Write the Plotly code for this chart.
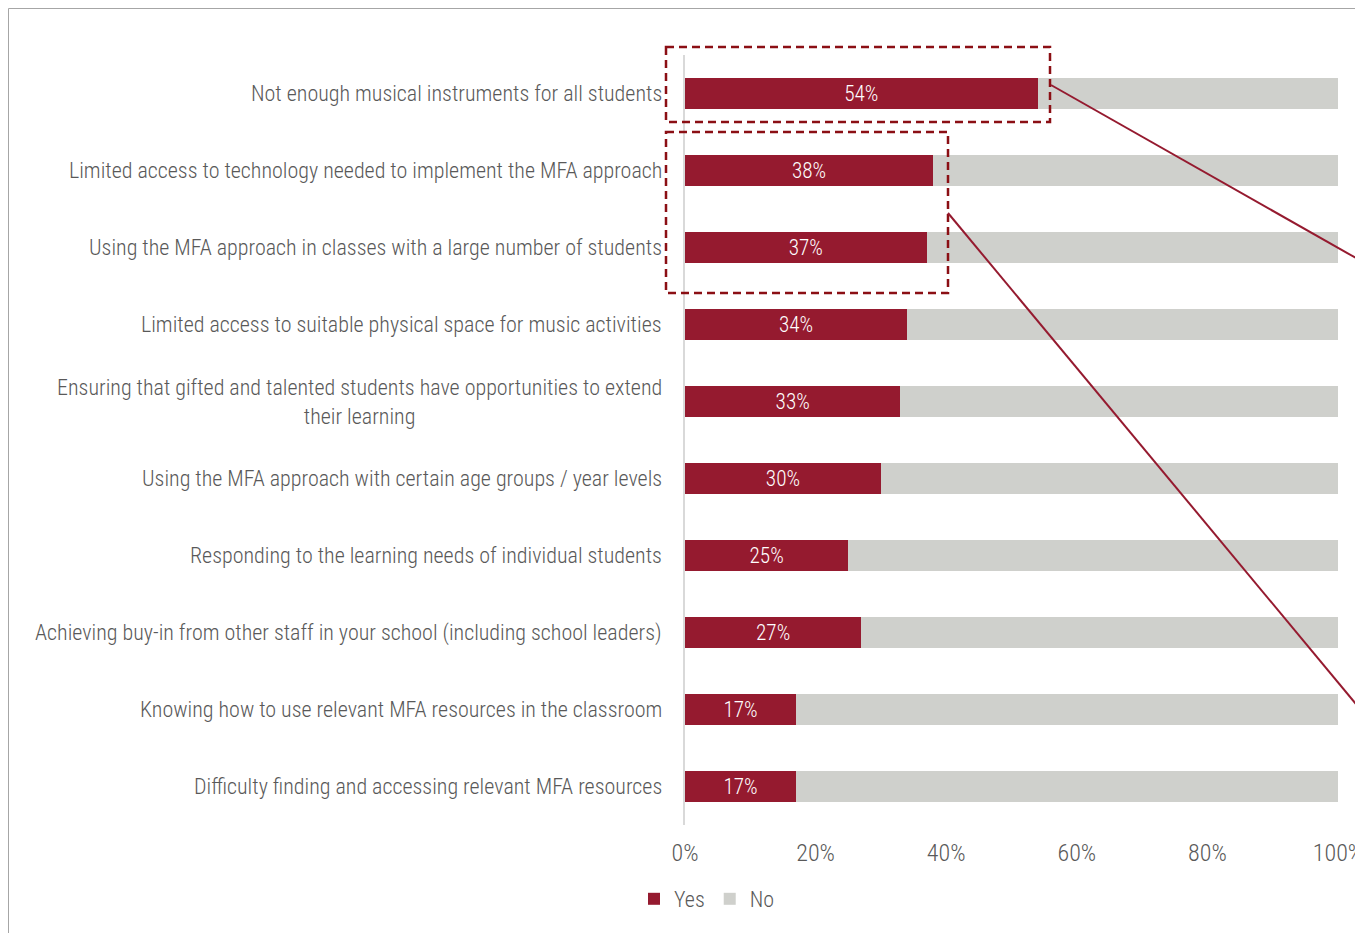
import plotly.graph_objects as go

categories = [
    "Not enough musical instruments for all students",
    "Limited access to technology needed to implement the MFA approach",
    "Using the MFA approach in classes with a large number of students",
    "Limited access to suitable physical space for music activities",
    "Ensuring that gifted and talented students have opportunities to extend<br>their learning",
    "Using the MFA approach with certain age groups / year levels",
    "Responding to the learning needs of individual students",
    "Achieving buy-in from other staff in your school (including school leaders)",
    "Knowing how to use relevant MFA resources in the classroom",
    "Difficulty finding and accessing relevant MFA resources",
]
yes_pct = [54, 38, 37, 34, 33, 30, 25, 27, 17, 17]
no_pct = [100 - v for v in yes_pct]
x_ticks = [0, 0.2, 0.4, 0.6, 0.8, 1.0]
x_tick_labels = ["0%", "20%", "40%", "60%", "80%", "100%"]

YES_COLOR = "#951A2F"
NO_COLOR = "#CFD0CC"
TEXT_COLOR = "#595959"
ACCENT = "#8B0F14"
FONT = "Liberation Sans Narrow, Arial Narrow, Roboto Condensed, sans-serif"

OFF = 8  # page body margin
W, H = 1363 - OFF, 933 - OFF
PLOT_L, PLOT_R, PLOT_T, PLOT_B = 685, 1338, 55, 825  # page pixel positions
ML = PLOT_L - OFF
MR = (W + OFF) - PLOT_R
MT = PLOT_T - OFF
MB = (H + OFF) - PLOT_B
PW = PLOT_R - PLOT_L
PH = PLOT_B - PLOT_T


def px_x(p):
    return (p - PLOT_L) / PW


def px_y(p):
    return (PLOT_B - p) / PH


fig = go.Figure()
fig.add_trace(go.Bar(
    y=categories, x=[v / 100 for v in yes_pct], orientation="h", name="Yes",
    marker=dict(color=YES_COLOR, line=dict(width=0)),
    text=[f"{v}%" for v in yes_pct], textposition="inside",
    insidetextanchor="middle",
    textfont=dict(color="white", size=24, family=FONT, weight=300),
    hoverinfo="skip",
))
fig.add_trace(go.Bar(
    y=categories, x=[v / 100 for v in no_pct], orientation="h", name="No",
    marker=dict(color=NO_COLOR, line=dict(width=0)),
    hoverinfo="skip",
))

annotations = []
for c in categories:
    annotations.append(dict(
        xref="paper", yref="y", x=px_x(664), y=c, xanchor="right", yanchor="middle",
        text=c, showarrow=False, align="center",
        font=dict(size=22, color=TEXT_COLOR, family=FONT, weight=300),
    ))

shapes = [
    # outer border (partially visible)
    dict(type="rect", xref="paper", yref="paper", x0=px_x(OFF + 0.5), x1=px_x(1400),
         y0=px_y(OFF + 0.5), y1=px_y(1000), line=dict(color="#A6A6A6", width=1)),
    # dashed highlight boxes
    dict(type="rect", xref="paper", yref="paper", x0=px_x(666), x1=px_x(1050),
         y0=px_y(47), y1=px_y(122), line=dict(color=ACCENT, width=2.5, dash="8px,5px")),
    dict(type="rect", xref="paper", yref="paper", x0=px_x(666), x1=px_x(948),
         y0=px_y(132), y1=px_y(293), line=dict(color=ACCENT, width=2.5, dash="8px,5px")),
    # callout lines
    dict(type="line", xref="paper", yref="paper", x0=px_x(1051), y0=px_y(85),
         x1=px_x(1400), y1=px_y(283), line=dict(color=YES_COLOR, width=2)),
    dict(type="line", xref="paper", yref="paper", x0=px_x(948), y0=px_y(213),
         x1=px_x(1400), y1=px_y(757), line=dict(color=YES_COLOR, width=2)),
]

fig.update_layout(
    width=W, height=H,
    margin=dict(l=ML, r=MR, t=MT, b=MB, autoexpand=False),
    barmode="stack", bargap=0.6,
    paper_bgcolor="white", plot_bgcolor="white",
    font=dict(family=FONT, size=22, color=TEXT_COLOR),
    xaxis=dict(range=[0, 1], tickvals=x_ticks, ticktext=x_tick_labels,
               showgrid=False, zeroline=False, showline=False,
               ticks="outside", ticklen=6, tickcolor="rgba(0,0,0,0)",
               ticklabeloverflow="allow",
               tickfont=dict(size=24, color=TEXT_COLOR, family=FONT, weight=300),
               fixedrange=True),
    yaxis=dict(autorange="reversed", showticklabels=False, ticks="",
               showgrid=False, zeroline=False, showline=True,
               linecolor="#D9D9D9", linewidth=1.5, fixedrange=True),
    legend=dict(orientation="h", xref="paper", yref="paper", x=px_x(634), y=px_y(899),
                xanchor="left", yanchor="middle", itemwidth=30,
                font=dict(size=22, color=TEXT_COLOR, family=FONT, weight=300),
                traceorder="normal", itemclick=False),
    annotations=annotations,
    shapes=shapes,
    showlegend=True,
)

fig.write_html("out.html")
